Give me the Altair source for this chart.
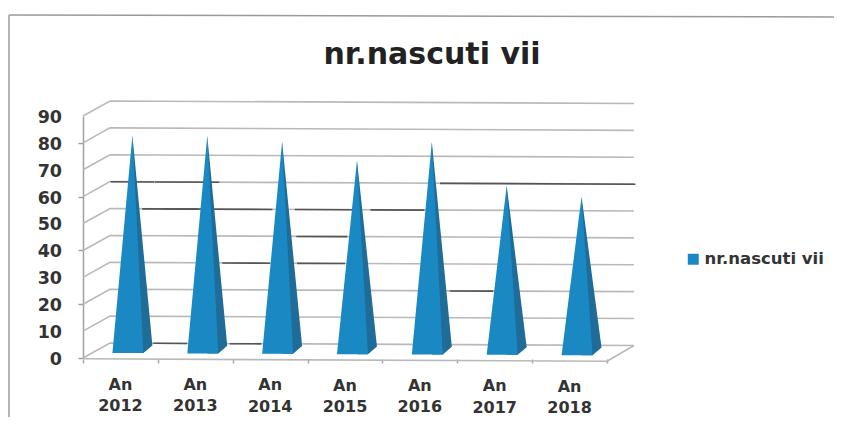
import altair as alt
import pandas as pd

title = "nr.nascuti vii"
years = ["An 2012", "An 2013", "An 2014", "An 2015", "An 2016", "An 2017", "An 2018"]
values = [80, 80, 78, 71, 78, 62, 58]
grid_values = [0, 10, 20, 30, 40, 50, 60, 70, 80, 90]
# darker stretches of the back-wall gridlines: (gridline value, from, to, in category units)
dark_value = [60, 60, 60, 50, 50, 50, 50, 40, 30, 30, 20, 0, 0]
dark_from = [0.37, 0.96, 4.77, 0.79, 1.09, 2.83, 3.84, 2.85, 1.86, 2.86, 4.9, 0.94, 1.96]
dark_to = [0.95, 1.82, 7.38, 1.54, 2.53, 3.60, 4.56, 3.53, 2.5, 3.50, 5.48, 1.39, 2.38]

TILT = 0.13      # scan tilt, value units per category
DX, DY = 0.36, 5.58   # depth of the chart box, in axis units
LABEL_LINE_1, LABEL_LINE_2 = -9.8, -17.8  # category label rows, in axis units
FRONT = "#1a88c2"
SIDE = "#1e6c97"
GRID = "#b9b9b9"
TEXT = "#333333"


def yt(x, v):
    return v - TILT * x


grid_rows = []
for v in grid_values:
    grid_rows.append({"id": v, "x": 0, "y": v})
    grid_rows.append({"id": v, "x": DX, "y": v + DY})
    grid_rows.append({"id": v, "x": 7 + DX, "y": yt(7, v + DY)})
grid = pd.DataFrame(grid_rows)

floor = pd.DataFrame([
    {"id": "front", "x": 0, "y": -0.3},
    {"id": "front", "x": 7, "y": yt(7, -0.3)},
    {"id": "side", "x": 7, "y": yt(7, -0.3)},
    {"id": "side", "x": 7 + DX, "y": yt(7, DY)},
])

dark_rows = []
for k, (v, a, b) in enumerate(zip(dark_value, dark_from, dark_to)):
    dark_rows.append({"id": k, "x": a, "y": yt(a, v + DY)})
    dark_rows.append({"id": k, "x": b, "y": yt(b, v + DY)})
dark = pd.DataFrame(dark_rows)

front_rows, side_rows, label_rows = [], [], []
HALF = 0.207
BASE_DX, BASE_DY = 0.10, 1.9
for i, (name, v) in enumerate(zip(years, values)):
    c = i + 0.5 + BASE_DX
    base = yt(c, BASE_DY)
    xl, xr = c - HALF, c + HALF
    xa = c + 0.06
    top = yt(c, v + 2.9)
    xb = xr + 0.12
    yb = yt(xb, BASE_DY + 2.9)
    # front face
    front_rows += [
        {"cat": name, "series": title, "x": xl, "y": base, "y2": base},
        {"cat": name, "series": title, "x": xa, "y": top, "y2": base},
        {"cat": name, "series": title, "x": xr, "y": base, "y2": base},
    ]
    # side face
    frac = (xr - xa) / (xb - xa)
    side_rows += [
        {"cat": name, "x": xa, "y": top, "y2": base},
        {"cat": name, "x": xr, "y": top + (yb - top) * frac, "y2": base},
        {"cat": name, "x": xb, "y": yb, "y2": yb},
    ]
    word, year = name.split()
    label_rows.append({"x": i + 0.5, "y": yt(i + 0.5, LABEL_LINE_1), "t": word})
    label_rows.append({"x": i + 0.5, "y": yt(i + 0.5, LABEL_LINE_2), "t": year})
front = pd.DataFrame(front_rows)
side = pd.DataFrame(side_rows)
labels = pd.DataFrame(label_rows)
y_labels = pd.DataFrame({"y": [v - 0.7 for v in grid_values], "t": [str(v) for v in grid_values]})

x_scale = alt.Scale(domain=[0, 7], nice=False, zero=False)
y_scale = alt.Scale(domain=[0, 90], nice=False, zero=False)

x_plain = alt.X("x:Q", scale=x_scale, title=None)
y_plain = alt.Y("y:Q", scale=y_scale, title=None)

grid_layer = alt.Chart(grid).mark_line(color=GRID, strokeWidth=1.6).encode(
    x=alt.X("x:Q", scale=x_scale, axis=alt.Axis(
        title=None, grid=False, domain=False, values=list(range(8)), labels=False,
        tickColor="#a8a8a8", tickWidth=1.5, tickSize=4, offset=1,
    )),
    y=alt.Y("y:Q", scale=y_scale, axis=alt.Axis(
        title=None, grid=False, values=grid_values, domainColor="#a0a0a0",
        domainWidth=1.5, tickColor="#a0a0a0", tickWidth=1.5, tickSize=5, labels=False,
    )),
    detail="id:N",
)

floor_layer = alt.Chart(floor).mark_line(color=GRID, strokeWidth=1.6).encode(
    x=x_plain, y=y_plain, detail="id:N",
)

dark_layer = alt.Chart(dark).mark_line(color="#555555", strokeWidth=1.6).encode(
    x=x_plain, y=y_plain, detail="id:N",
)

side_layer = alt.Chart(side).mark_area(color=SIDE).encode(
    x=x_plain, y=y_plain, y2="y2:Q", detail="cat:N",
)

front_layer = alt.Chart(front).mark_area().encode(
    x=x_plain, y=y_plain, y2="y2:Q", detail="cat:N",
    color=alt.Color("series:N", scale=alt.Scale(domain=[title], range=[FRONT]), legend=alt.Legend(
        title=None, orient="none", legendX=602, legendY=135, symbolType="square",
        symbolSize=120, symbolStrokeWidth=0, labelFont="DejaVu Sans", labelFontWeight="bold",
        labelFontSize=16.5, labelColor=TEXT, labelOffset=3, labelLimit=200,
    )),
)

label_layer = alt.Chart(labels).mark_text(
    font="DejaVu Sans", fontWeight="bold", fontSize=16, color=TEXT, baseline="middle",
).encode(x=x_plain, y=y_plain, text="t:N")

y_label_layer = alt.Chart(y_labels).mark_text(
    font="DejaVu Sans", fontWeight="bold", fontSize=17.5, color=TEXT, baseline="middle", align="right",
).encode(x=alt.value(-21), y=y_plain, text="t:N")

title_layer = alt.Chart(pd.DataFrame({"t": [title]})).mark_text(
    font="DejaVu Sans", fontWeight="bold", fontSize=30, color="#222222", baseline="middle",
).encode(x=alt.value(349), y=alt.value(-61), text="t:N")

frame = alt.Chart(pd.DataFrame({"a": [0]})).mark_rule(color="#9a9a9a", strokeWidth=1.5).encode(
    x=alt.value(-74), x2=alt.value(751), y=alt.value(-101), y2=alt.value(-99),
)
frame_left = alt.Chart(pd.DataFrame({"a": [0]})).mark_rule(color="#9a9a9a", strokeWidth=1.5).encode(
    x=alt.value(-74), y=alt.value(-101), y2=alt.value(301),
)

chart = alt.layer(
    frame, frame_left, grid_layer, floor_layer, dark_layer, side_layer, front_layer,
    label_layer, y_label_layer, title_layer,
).properties(
    width=524,
    height=242,
    padding={"left": 75, "top": 108, "right": 227, "bottom": 59},
    autosize=alt.AutoSizeParams(type="none"),
    background="white",
).configure_view(stroke=None)

chart.save("out.html", embed_options={"renderer": "svg", "actions": False})
